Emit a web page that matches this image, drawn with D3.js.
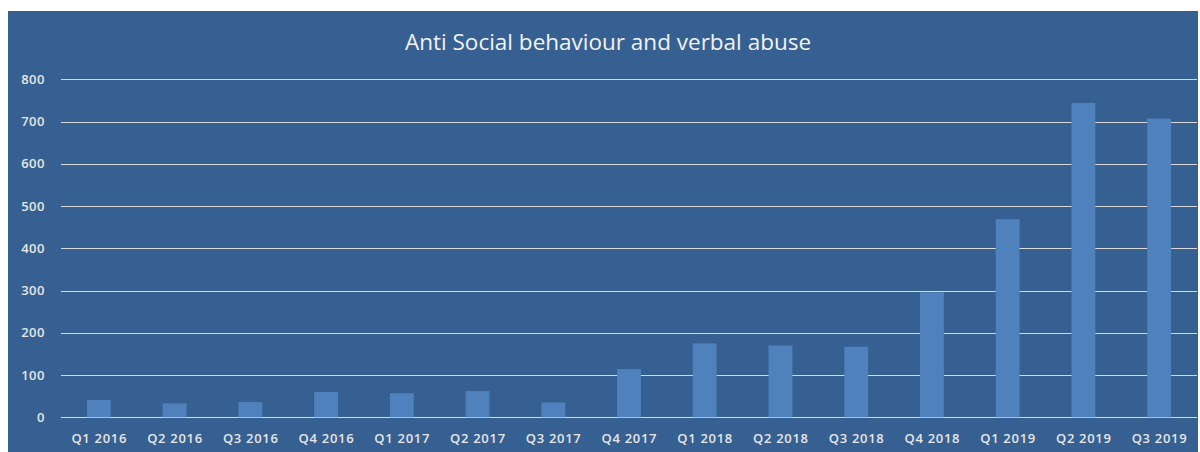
<!DOCTYPE html>
<html><head><meta charset="utf-8">
<script src="https://cdn.jsdelivr.net/npm/d3@7"></script>
<style>body{margin:0;background:#fff;}svg{display:block;}</style>
</head><body>
<svg id="chart" width="1200" height="452"></svg>
<script>
const categories = ["Q1 2016","Q2 2016","Q3 2016","Q4 2016","Q1 2017","Q2 2017","Q3 2017","Q4 2017","Q1 2018","Q2 2018","Q3 2018","Q4 2018","Q1 2019","Q2 2019","Q3 2019"];
const values = [41, 33, 36, 60, 57, 62, 35, 114, 175, 170, 167, 296, 469, 744, 707];
const yTicks = [0, 100, 200, 300, 400, 500, 600, 700, 800];
const title = "Anti Social behaviour and verbal abuse";

const svg = d3.select("#chart");
const font = "'Open Sans', Lato, sans-serif";
svg.append("rect").attr("x", 8).attr("y", 11).attr("width", 1190).attr("height", 441).attr("fill", "#366092");

const x = d3.scaleBand().domain(categories).range([61, 1197]).paddingInner(0.685).paddingOuter(0.3425);
const y = d3.scaleLinear().domain([0, 800]).range([417.3, 79.3]);

const grid = svg.append("g");
grid.selectAll("line").data(yTicks).join("line")
  .attr("x1", 61).attr("x2", 1197)
  .attr("y1", d => Math.round(y(d)) + 0.5).attr("y2", d => Math.round(y(d)) + 0.5)
  .attr("stroke", "#d9d9d9").attr("stroke-width", 1);

const yAxis = svg.append("g").attr("transform", "translate(45,0)")
  .call(d3.axisLeft(y).tickValues(yTicks).tickSize(0).tickPadding(0));
yAxis.select(".domain").remove();
yAxis.selectAll("text").attr("fill", "#e6e6e6").style("font-family", font)
  .style("font-size", "13px").style("font-weight", "600").style("letter-spacing", "0.5px");

svg.append("g").selectAll("rect").data(values).join("rect")
  .attr("x", (d, i) => x(categories[i]))
  .attr("width", x.bandwidth())
  .attr("y", d => y(d))
  .attr("height", d => y(0) - y(d))
  .attr("fill", "#4f81bd");

const xAxis = svg.append("g").attr("transform", `translate(0.4,${y(0)})`)
  .call(d3.axisBottom(x).tickSize(0).tickPadding(16));
xAxis.select(".domain").remove();
xAxis.selectAll("text").attr("fill", "#e6e6e6").style("font-family", font)
  .style("font-size", "13px").style("font-weight", "600").style("letter-spacing", "0.7px");

svg.append("text").attr("x", 608).attr("y", 50).attr("text-anchor", "middle")
  .attr("fill", "#f2f2f2").style("font-family", font).style("font-size", "22.5px")
  .text(title);
</script>
</body></html>
